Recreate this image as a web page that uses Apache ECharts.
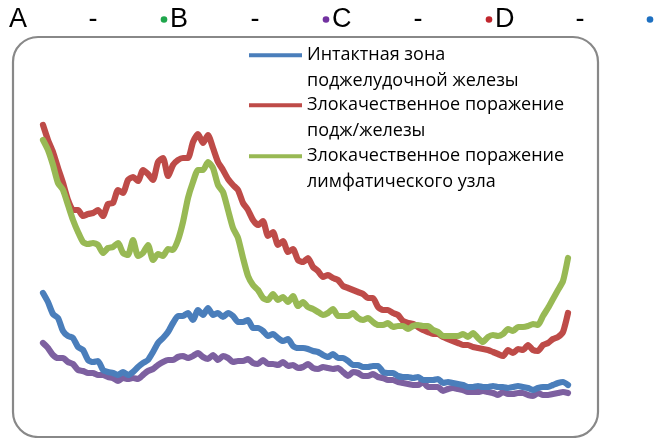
<!DOCTYPE html>
<html>
<head>
<meta charset="utf-8">
<script src="https://cdn.jsdelivr.net/npm/echarts@6/dist/echarts.min.js"></script>
<style>html,body{margin:0;padding:0;background:#fff;}#c{width:665px;height:438px;}</style>
</head>
<body>
<div id="c"></div>
<script>
// Series values (arbitrary intensity units), one sample per channel
const seriesNames = [
  'Интактная зона\nподжелудочной железы',
  'Злокачественное поражение\nподж/железы',
  'Злокачественное поражение\nлимфатического узла',
  'Ряд4'
];
const intactPancreas = [107,98,86,82,69,64,62,53,50,40,38,39,30,28,27,25,28,25,28,33,37,40,48,57,62,68,77,84,84,87,80,90,85,92,85,87,83,87,84,78,78,80,72,72,69,64,66,62,59,61,54,52,52,51,49,48,45,43,46,42,42,39,35,35,33,33,34,34,28,27,27,24,23,23,22,23,20,20,20,21,17,18,17,16,15,13,13,14,13,13,14,13,13,12,13,14,13,12,10,12,13,13,15,17,18,15];
const malignantPancreas = [275,260,248,232,217,200,190,190,184,186,187,190,184,196,197,210,207,220,223,219,230,226,220,238,242,224,235,240,242,242,258,266,257,265,252,238,230,221,215,210,197,190,180,175,179,164,168,155,159,148,151,140,138,142,133,129,123,125,122,120,114,112,110,108,106,102,102,93,90,90,87,85,79,77,76,73,70,68,66,66,63,61,59,57,55,55,53,52,51,50,48,46,44,50,47,51,50,55,50,49,55,57,61,63,68,87];
const malignantLymph = [260,250,235,217,210,195,180,168,158,156,157,155,147,152,153,157,147,145,160,144,147,155,140,146,144,151,150,160,178,202,218,230,230,238,232,215,208,190,172,162,142,124,115,110,102,100,106,100,103,98,104,94,98,93,91,88,85,87,91,84,84,84,87,82,80,82,78,75,75,77,73,74,74,71,74,75,74,74,70,68,64,64,64,64,66,63,67,62,58,63,65,64,66,71,69,73,73,74,76,75,84,92,101,110,119,142];
const series4 = [57,52,45,42,42,38,36,30,29,27,27,25,25,23,22,19,22,21,22,21,25,29,31,35,38,40,40,43,44,42,44,47,43,41,45,40,44,42,38,39,39,41,37,36,40,36,36,35,38,34,35,32,33,36,32,31,33,32,31,32,28,24,28,27,24,24,26,23,22,20,20,18,17,16,15,15,18,13,13,13,9,11,12,11,10,8,8,8,9,8,7,5,8,6,6,7,7,5,4,7,5,5,6,7,8,7];
const channels = intactPancreas.map((_, i) => i + 1);
// Stray labels along the top
const topLabels = ['A', '-', 'B', '-', 'C', '-', 'D', '-', ''];
const topDotColors = [null, null, '#1FA64C', null, '#7232A0', null, '#C0262D', null, '#1E70C1'];

const colors = ['#4A7EBB', '#BE4B48', '#98B954', '#7D60A0'];
const chart = echarts.init(document.getElementById('c'), null, {renderer: 'canvas'});

const graphics = [{
  type: 'rect', z: 0, silent: true,
  shape: {x: 13, y: 37, width: 585, height: 400, r: 25},
  style: {fill: 'none', stroke: '#888888', lineWidth: 2.2}
}];
const slotX = [9, 93, 170, 255, 332, 418, 495, 580, 650];
topLabels.forEach((t, i) => {
  if (topDotColors[i]) {
    graphics.push({type: 'circle', silent: true, shape: {cx: t ? slotX[i] - 6 : slotX[i], cy: 19.5, r: 3.3}, style: {fill: topDotColors[i]}});
  }
  if (t) {
    graphics.push({type: 'text', silent: true, x: slotX[i], y: 20,
      style: {text: t, font: '27px "Liberation Sans", Arial, sans-serif', fill: '#000',
        align: t === '-' ? 'center' : 'left', verticalAlign: 'middle'}});
  }
});

const legendTops = [17, 67, 118];
const legends = [0, 1, 2].map(k => ({
  data: [seriesNames[k]], left: 249, top: legendTops[k], padding: 0,
  itemWidth: 53, itemHeight: 4, icon: 'rect', selectedMode: false,
  formatter: name => '\n' + name,
  textStyle: {fontFamily: '"Open Sans", sans-serif', fontSize: 18, lineHeight: 25.5, color: '#000'}
}));

chart.setOption({
  animation: false,
  color: colors,
  graphic: graphics,
  legend: legends,
  grid: {left: 43, right: 97, top: 100, bottom: 38},
  xAxis: {type: 'category', data: channels, boundaryGap: false, show: false},
  yAxis: {type: 'value', min: 0, max: 300, show: false},
  series: [intactPancreas, malignantPancreas, malignantLymph, series4].map((d, k) => ({
    name: seriesNames[k], type: 'line', data: d, showSymbol: false, smooth: 0.2,
    lineStyle: {width: 6.2, color: colors[k], cap: 'round', join: 'round'},
    itemStyle: {color: colors[k]}, z: 2 + (k === 3 ? -1 : k)
  }))
});
</script>
</body>
</html>
